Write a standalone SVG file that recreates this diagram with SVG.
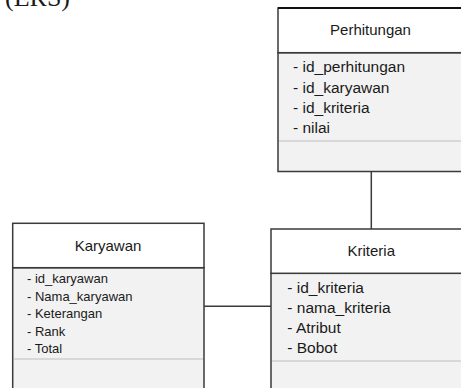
<svg xmlns="http://www.w3.org/2000/svg" width="461" height="388" viewBox="0 0 461 388">
  <style>
    .hdr { fill: #ffffff; stroke: #3a3a3a; stroke-width: 1.5; }
    .body { fill: #f2f2f2; stroke: #3a3a3a; stroke-width: 1.5; }
    .sep { stroke: #cfcfcf; stroke-width: 1.5; }
    .title { font-family: "Liberation Sans", Arial, sans-serif; font-size: 15px; fill: #1a1a1a; text-anchor: middle; }
    .attr { font-family: "Liberation Sans", Arial, sans-serif; font-size: 15.5px; fill: #1a1a1a; }
    .attr-sm { font-family: "Liberation Sans", Arial, sans-serif; font-size: 13px; fill: #1a1a1a; }
    .conn { stroke: #3a3a3a; stroke-width: 1.5; fill: none; }
  </style>
  <rect width="461" height="388" fill="#ffffff"/>

  <!-- caption, clipped at the top edge -->
  <text x="5" y="6" font-family="'Liberation Serif', 'Times New Roman', serif" font-size="26" fill="#1a1a1a">(ERS)</text>

  <g id="connectors">
    <line class="conn" x1="371.3" y1="171.5" x2="371.3" y2="229"/>
    <line class="conn" x1="204" y1="306.3" x2="271" y2="306.3"/>
  </g>

  <g id="perhitungan">
    <rect class="body" x="278" y="52.7" width="200" height="118.8"/>
    <rect class="hdr" x="278" y="8" width="200" height="44.7"/>
    <line x1="278" y1="8" x2="470" y2="8" stroke="#111" stroke-width="2"/>
    <line class="sep" x1="279" y1="141" x2="470" y2="141"/>
    <text class="title" x="370.5" y="35">Perhitungan</text>
    <text class="attr" x="293" y="72">- id_perhitungan</text>
    <text class="attr" x="293" y="92.5">- id_karyawan</text>
    <text class="attr" x="293" y="112.5">- id_kriteria</text>
    <text class="attr" x="293" y="133">- nilai</text>
  </g>

  <g id="karyawan">
    <rect class="body" x="12.7" y="267.7" width="191.3" height="130"/>
    <rect class="hdr" x="12.7" y="223.3" width="191.3" height="44.4"/>
    <line class="sep" x1="14" y1="359" x2="203" y2="359"/>
    <text class="title" x="108" y="251">Karyawan</text>
    <text class="attr-sm" x="27" y="283.3">- id_karyawan</text>
    <text class="attr-sm" x="27" y="300.8">- Nama_karyawan</text>
    <text class="attr-sm" x="27" y="318.3">- Keterangan</text>
    <text class="attr-sm" x="27" y="335.7">- Rank</text>
    <text class="attr-sm" x="27" y="352.7">- Total</text>
  </g>

  <g id="kriteria">
    <rect class="body" x="271" y="273.3" width="200" height="130"/>
    <rect class="hdr" x="271" y="229" width="200" height="44.3"/>
    <line class="sep" x1="272" y1="361" x2="470" y2="361"/>
    <text class="title" x="371.3" y="256">Kriteria</text>
    <text class="attr" x="287.3" y="292.7">- id_kriteria</text>
    <text class="attr" x="287.3" y="312.7">- nama_kriteria</text>
    <text class="attr" x="287.3" y="333.3">- Atribut</text>
    <text class="attr" x="287.3" y="353.3">- Bobot</text>
  </g>
</svg>
